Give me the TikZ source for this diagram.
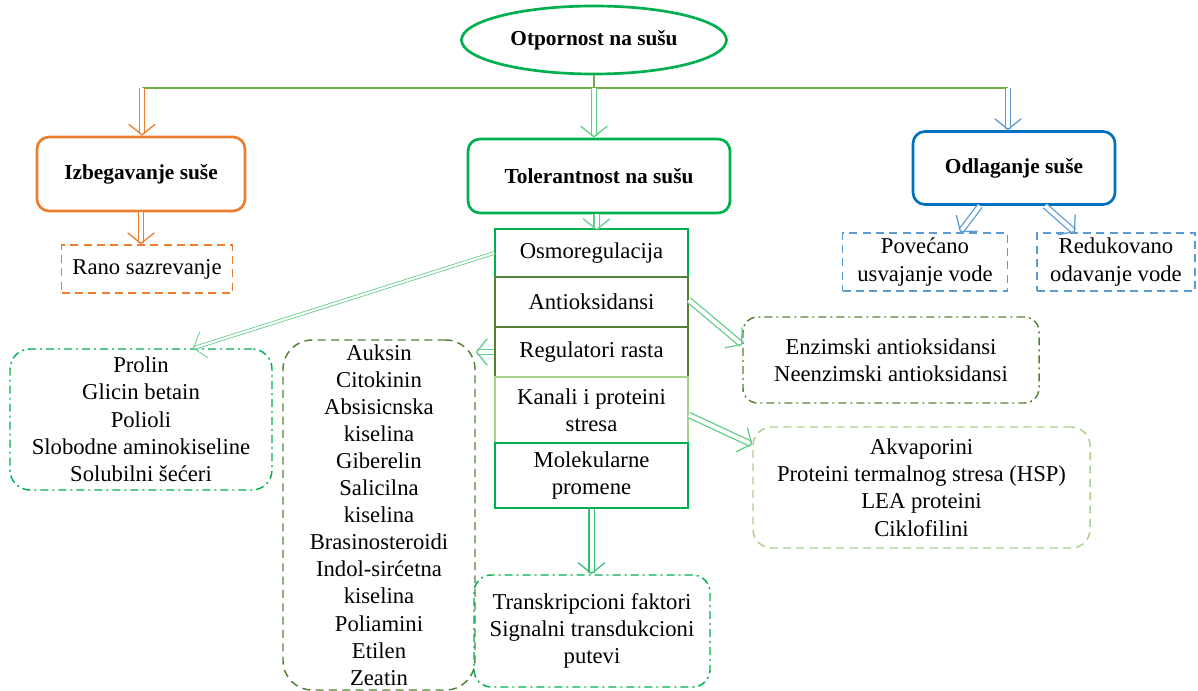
\documentclass[tikz,border=0pt]{standalone}
\usepackage{fontspec}
\setmainfont{Liberation Serif}
\usetikzlibrary{shapes.geometric,arrows.meta,calc}

\definecolor{orng}{RGB}{237,125,49}
\definecolor{grn}{RGB}{0,176,80}
\definecolor{blu}{RGB}{0,112,192}
\definecolor{lblu}{RGB}{91,155,213}
\definecolor{olv}{RGB}{84,130,53}
\definecolor{lgrn}{RGB}{169,209,142}
\definecolor{mint}{RGB}{95,205,135}
\definecolor{lnk}{RGB}{112,173,71}

\def\pxu{0.75pt}
\tikzset{
  txt/.style={font=\fontsize{17}{20.5}\selectfont, align=center, inner sep=2pt},
  hdr/.style={txt, draw, line width=2pt, rounded corners=9pt,
    font=\fontsize{16}{19}\selectfont\bfseries},
  cell/.style={txt, draw, line width=1.2pt, minimum width=193*\pxu},
  dashbox/.style={txt, draw, line width=1.1pt, dash pattern=on 6pt off 4pt},
  dotbox/.style={txt, draw, line width=1.1pt, dash pattern=on 6pt off 3pt on 1.5pt off 3pt},
  dbl/.style={double=white, double distance=3pt, line width=0.95pt,
    -{Straight Barb[length=8pt,width=20pt]}},
}

\begin{document}
\begin{tikzpicture}[x=0.75pt,y=-0.75pt]
  \useasboundingbox (0,0) rectangle (1198,691);
  \node[txt, ellipse, draw=grn, line width=2pt, minimum width=265*\pxu, minimum height=68*\pxu,
    font=\fontsize{16}{19}\selectfont\bfseries] (top) at (594,40) {Otpornost na sušu};
  % glavne grane
  \node[hdr, draw=orng, minimum width=208*\pxu, minimum height=74*\pxu] (izb) at (141,174) {Izbegavanje suše};
  \node[hdr, draw=grn, minimum width=262*\pxu, minimum height=74*\pxu] (tol) at (599,176) {Tolerantnost na sušu};
  \node[hdr, draw=blu, minimum width=202*\pxu, minimum height=73*\pxu] (odl) at (1014,168) {Odlaganje suše};
  \path[coordinate] (594,88) coordinate (jn)
    (142,88) coordinate (jl)
    (1008,88) coordinate (jr);
  \draw[lnk, line width=1pt] (top.south) -- (jn);
  \draw[lnk, line width=1pt] (jl) -- (jr);
  \draw[dbl, orng] (jl) -- (izb.north -| jl);
  \draw[dbl, mint] (jn) -- (tol.north -| jn);
  \draw[dbl, lblu] (jr) -- (odl.north -| jr);
  % izbegavanje
  \node[dashbox, draw=orng, minimum width=171*\pxu, minimum height=48*\pxu] (rano) at (147,269) {Rano sazrevanje};
  \draw[dbl, orng] (izb.south) -- (izb.south |- rano.north);
  % odlaganje
  \node[dashbox, draw=lblu, minimum width=165*\pxu, minimum height=58*\pxu] (pov) at (925,262) {Povećano\\usvajanje vode};
  \node[dashbox, draw=lblu, minimum width=158*\pxu, minimum height=58*\pxu] (red) at (1116,262) {Redukovano\\odavanje vode};
  \draw[dbl, lblu] ($(odl.south)+(-34,0)$) -- ($(pov.north)+(35,0)$);
  \draw[dbl, lblu] ($(odl.south)+(31,0)$) -- ($(red.north)+(-41,0)$);
  % tolerantnost
  \node[cell, draw=grn, minimum height=48*\pxu] (osmo) at (591.5,253) {Osmoregulacija};
  \node[cell, draw=olv, minimum height=50*\pxu] (anti) at (591.5,302) {Antioksidansi};
  \node[cell, draw=olv, minimum height=50*\pxu] (reg) at (591.5,352) {Regulatori rasta};
  \node[cell, draw=lgrn, minimum height=66*\pxu] (kan) at (591.5,410) {Kanali i proteini\\stresa};
  \node[cell, draw=grn, minimum height=65*\pxu] (mol) at (591.5,475.5) {Molekularne\\promene};
  \draw[dbl, mint] (tol.south -| osmo.north) ++(5,0) -- ++(0,16);
  \node[dotbox, draw=grn, rounded corners=15pt, minimum width=262*\pxu, minimum height=141*\pxu] (prolin) at (141,419.5)
    {Prolin\\Glicin betain\\Polioli\\Slobodne aminokiseline\\Solubilni šećeri};
  \node[dashbox, draw=olv, rounded corners=22pt, minimum width=192*\pxu, minimum height=350*\pxu,
    font=\fontsize{17}{20.3}\selectfont] (rast) at (379,515)
    {Auksin\\Citokinin\\Absisicnska\\kiselina\\Giberelin\\Salicilna\\kiselina\\Brasinosteroidi\\Indol-sirćetna\\kiselina\\Poliamini\\Etilen\\Zeatin};
  \node[dotbox, draw=olv, rounded corners=11pt, minimum width=296*\pxu, minimum height=86*\pxu] (enz) at (891,360)
    {Enzimski antioksidansi\\Neenzimski antioksidansi};
  \node[dashbox, draw=lgrn, rounded corners=14pt, minimum width=337*\pxu, minimum height=121*\pxu] (akv) at (921.5,487.5)
    {Akvaporini\\Proteini termalnog stresa (HSP)\\LEA proteini\\Ciklofilini};
  \node[dotbox, draw=grn, rounded corners=13pt, minimum width=236*\pxu, minimum height=112*\pxu] (trans) at (592,631)
    {Transkripcioni faktori\\Signalni transdukcioni\\putevi};
  \draw[dbl, mint, double distance=1.6pt, line width=0.6pt] (osmo.west) -- ($(prolin.north)+(52,0)$);
  \draw[dbl, mint] (reg.west) -- (reg.west -| rast.east);
  \draw[dbl, mint] ($(anti.east)+(0,-2)$) -- ($(enz.west)+(0,-15)$);
  \draw[dbl, mint] ($(kan.east)+(0,5)$) -- ($(akv.west)+(0,-43)$);
  \draw[dbl, grn!80] (mol.south) -- (mol.south |- trans.north);
\end{tikzpicture}
\end{document}
